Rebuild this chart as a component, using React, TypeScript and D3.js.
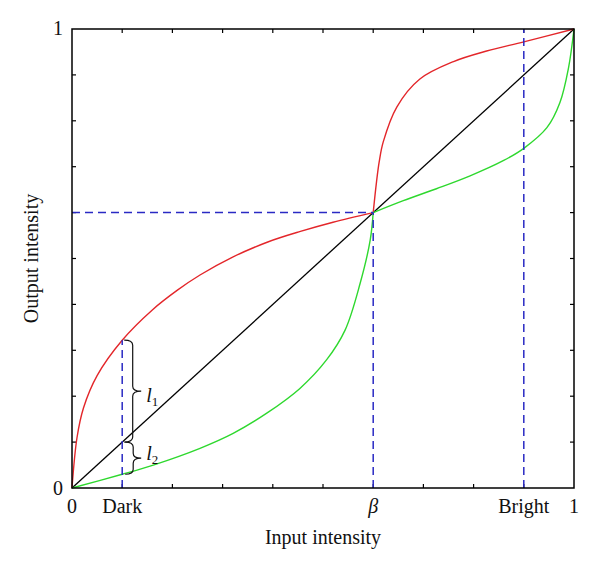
import React from 'react';
import * as d3 from 'd3';

// curve samples (input -> output), split at beta
const redLowX = [0, 0.01, 0.023, 0.05, 0.1, 0.16, 0.21, 0.255, 0.32, 0.39, 0.455, 0.52, 0.6];
const redLowY = [0, 0.11, 0.175, 0.245, 0.322, 0.388, 0.431, 0.464, 0.503, 0.536, 0.559, 0.579, 0.6];
const redHighX = [0.6, 0.6066, 0.612, 0.62, 0.647, 0.693, 0.76, 0.826, 0.9, 1];
const redHighY = [0.6, 0.667, 0.711, 0.754, 0.83, 0.891, 0.929, 0.952, 0.972, 1];
const greenLowX = [0, 0.1, 0.162, 0.255, 0.321, 0.388, 0.454, 0.507, 0.544, 0.574, 0.594, 0.6];
const greenLowY = [0, 0.03, 0.05, 0.0865, 0.119, 0.163, 0.217, 0.279, 0.344, 0.446, 0.54, 0.6];
const greenHighX = [0.6, 0.66, 0.726, 0.793, 0.859, 0.9, 0.946, 0.972, 0.989, 1];
const greenHighY = [0.6, 0.626, 0.652, 0.68, 0.713, 0.74, 0.785, 0.84, 0.915, 1];

const dark = 0.1;
const beta = 0.6;
const bright = 0.9;
const darkRed = 0.322;
const darkGreen = 0.03;

const tickValues = d3.range(1, 10).map(i => i / 10);

const width = 600;
const height = 570;
const marginLeft = 72;
const marginRight = 26;
const marginTop = 29;
const marginBottom = 82;

const font = '"Liberation Serif", "Times New Roman", serif';

const zip = (xs: number[], ys: number[]) => xs.map((x, i) => [x, ys[i]] as [number, number]);

const bracePath = (x: number, y1: number, y2: number, w: number) => {
  const m = (y1 + y2) / 2;
  const b = x + w / 2;
  const r = Math.min(5, (y2 - y1) / 4);
  return `M${x},${y1} Q${b},${y1} ${b},${y1 + r} L${b},${m - r} Q${b},${m} ${x + w},${m} ` +
    `Q${b},${m} ${b},${m + r} L${b},${y2 - r} Q${b},${y2} ${x},${y2}`;
};

export default function App() {
  const x = d3.scaleLinear().domain([0, 1]).range([marginLeft, width - marginRight]);
  const y = d3.scaleLinear().domain([0, 1]).range([height - marginBottom, marginTop]);

  const line = d3.line<[number, number]>()
    .x(d => x(d[0]))
    .y(d => y(d[1]))
    .curve(d3.curveCatmullRom.alpha(0.5));

  const x0 = x(0), x1 = x(1), y0 = y(0), y1 = y(1);
  const tick = 4;
  const blue = '#2a2ac4';
  const dash = '8,5';

  return (
    <svg width={width} height={height} style={{ position: 'absolute', left: 0, top: 0, background: 'white' }}
      fontFamily={font}>
      {/* ticks on all four sides */}
      <g stroke="#000" strokeWidth={1.2}>
        {tickValues.map(t => (
          <g key={t}>
            <line x1={x(t)} x2={x(t)} y1={y0} y2={y0 - tick} />
            <line x1={x(t)} x2={x(t)} y1={y1} y2={y1 + tick} />
            <line x1={x0} x2={x0 + tick} y1={y(t)} y2={y(t)} />
            <line x1={x1} x2={x1 - tick} y1={y(t)} y2={y(t)} />
          </g>
        ))}
      </g>

      {/* diagonal */}
      <line x1={x0} y1={y0} x2={x1} y2={y1} stroke="#000" strokeWidth={1.3} />

      {/* curves */}
      <g fill="none" strokeWidth={1.4}>
        <path d={line(zip(redLowX, redLowY)) ?? ''} stroke="#e3262a" />
        <path d={line(zip(redHighX, redHighY)) ?? ''} stroke="#e3262a" />
        <path d={line(zip(greenLowX, greenLowY)) ?? ''} stroke="#2ed82e" />
        <path d={line(zip(greenHighX, greenHighY)) ?? ''} stroke="#2ed82e" />
      </g>

      {/* dashed guides */}
      <g stroke={blue} strokeWidth={1.5} strokeDasharray={dash} fill="none">
        <line x1={x(dark)} x2={x(dark)} y1={y0} y2={y(darkRed)} />
        <line x1={x(beta)} x2={x(beta)} y1={y0} y2={y(beta)} />
        <line x1={x0} x2={x(beta)} y1={y(beta)} y2={y(beta)} />
        <line x1={x(bright)} x2={x(bright)} y1={y0} y2={y1} />
      </g>

      {/* braces */}
      <g fill="none" stroke="#111" strokeWidth={1.2}>
        <path d={bracePath(x(dark) + 2, y(darkRed), y(dark), 17)} />
        <path d={bracePath(x(dark) + 3, y(dark), y(darkGreen), 16)} />
      </g>
      <text x={x(dark) + 24} y={y(darkRed) + 62} fontSize={20} fontStyle="italic" fill="#111">
        l<tspan fontStyle="normal" fontSize={13} dy={4}>1</tspan>
      </text>
      <text x={x(dark) + 24} y={y(darkGreen) - 14} fontSize={20} fontStyle="italic" fill="#111">
        l<tspan fontStyle="normal" fontSize={13} dy={4}>2</tspan>
      </text>

      {/* frame */}
      <rect x={x0} y={y1} width={x1 - x0} height={y0 - y1} fill="none" stroke="#000" strokeWidth={1.5} />

      {/* tick labels */}
      <g fontSize={20} fill="#111" textAnchor="middle">
        <text x={x0} y={y0 + 25}>0</text>
        <text x={x(dark)} y={y0 + 25}>Dark</text>
        <text x={x(beta)} y={y0 + 25} fontStyle="italic">β</text>
        <text x={x(bright)} y={y0 + 25}>Bright</text>
        <text x={x1} y={y0 + 25}>1</text>
        <text x={x0 - 9} y={y0 + 7} textAnchor="end">0</text>
        <text x={x0 - 9} y={y1 + 6} textAnchor="end">1</text>
      </g>

      {/* axis titles */}
      <text x={(x0 + x1) / 2} y={544} fontSize={20} textAnchor="middle" fill="#111">Input intensity</text>
      <text transform={`translate(38,${(y0 + y1) / 2}) rotate(-90)`} fontSize={20} textAnchor="middle" fill="#111">
        Output intensity
      </text>
    </svg>
  );
}
